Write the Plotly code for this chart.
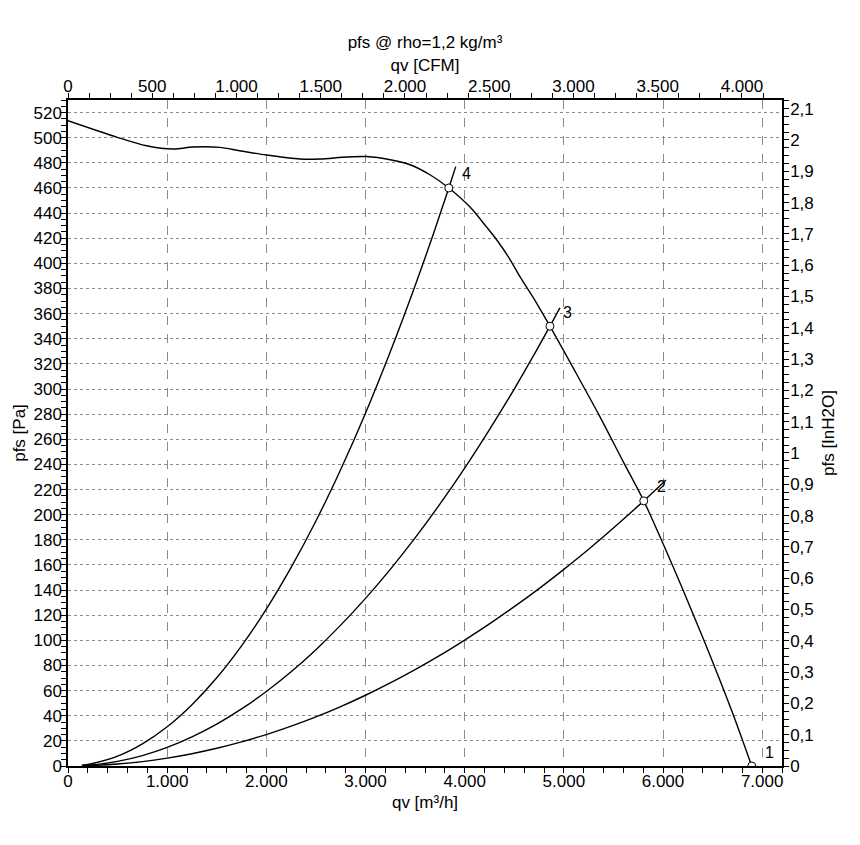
import plotly.graph_objects as go

# Fan curve pfs [Pa] vs qv [m3/h]
fan_qv = [0, 490, 793, 1060, 1260, 1530, 1730, 2000, 2340, 2540, 2810, 3010, 3250, 3450, 3650,
          3840, 4052, 4220, 4330, 4450, 4556, 4725, 4860, 5100, 5350, 5600, 5806, 6000, 6200,
          6400, 6573, 6700, 6895]
fan_p = [513.5, 500.5, 493.6, 491, 492.6, 492.3, 489.6, 486.2, 483, 483, 484.6, 485, 482.5, 478.5, 470.5,
         460, 445, 429, 418, 404, 389.6, 368.4, 350, 316, 280, 242, 211, 177, 140.4,
         102.4, 68.5, 42.5, 0]

# System curves
sys4_qv = [140, 250, 500, 750, 1000, 1250, 1500, 1750, 2000, 2250, 2500, 2750, 3000, 3250,
           3500, 3700, 3840, 3910]
sys4_p = [0.6, 2.0, 7.8, 17.6, 31.2, 48.8, 70.2, 95.6, 124.8, 158, 195, 236, 280.8, 329.6,
          382.2, 427, 460, 477]
sys3_qv = [140, 250, 500, 750, 1000, 1250, 1500, 1750, 2000, 2250, 2500, 2750, 3000, 3250,
           3500, 3750, 4000, 4250, 4500, 4700, 4860, 4960]
sys3_p = [0.3, 0.9, 3.7, 8.3, 14.8, 23.2, 33.3, 45.4, 59.3, 75, 92.6, 112.1, 133.4, 156.5,
          181.5, 208.4, 237.1, 267.7, 300, 327.4, 350, 364.6]
sys2_qv = [140, 250, 500, 750, 1000, 1250, 1500, 1750, 2000, 2250, 2500, 2750, 3000, 3250,
           3500, 3750, 4000, 4250, 4500, 4750, 5000, 5250, 5500, 5806, 6030]
sys2_p = [0.1, 0.4, 1.6, 3.5, 6.3, 9.8, 14.1, 19.2, 25, 31.7, 39.1, 47.3, 56.3, 66.1,
          76.7, 88, 100.2, 113.1, 126.8, 141.2, 156.5, 172.5, 189.4, 211, 227.6]

# Operating points
op_labels = ["1", "2", "3", "4"]
op_qv = [6895, 5806, 4860, 3840]
op_p = [0, 211, 350, 460]

title_text = "pfs @ rho=1,2 kg/m³"
x_title = "qv [m³/h]"
x2_title = "qv [CFM]"
y_title = "pfs [Pa]"
y2_title = "pfs [InH2O]"

QV_MAX = 7200
P_MAX = 530
CFM_PER_M3H = 1 / 1.69901
INH2O_PER_PA = 1 / 249.089

FONT = "Liberation Sans, Arial, sans-serif"
GRID = "#8a8a8a"

fig = go.Figure()
line = dict(color="black", width=1.4)
for qx, py, sm in [(sys4_qv, sys4_p, 1), (sys3_qv, sys3_p, 1), (sys2_qv, sys2_p, 1), (fan_qv, fan_p, 0.8)]:
    fig.add_trace(go.Scatter(x=qx, y=py, mode="lines", line=dict(line, shape="spline", smoothing=sm),
                             showlegend=False, hoverinfo="skip"))

fig.add_trace(go.Scatter(x=op_qv, y=op_p, mode="markers",
                         marker=dict(symbol="circle", size=8, color="white",
                                     line=dict(color="black", width=1)),
                         showlegend=False, cliponaxis=True))

# dummy trace for secondary axes
fig.add_trace(go.Scatter(x=[], y=[], xaxis="x2", yaxis="y2", showlegend=False))

for lab, qx, py in zip(op_labels, op_qv, op_p):
    fig.add_annotation(x=qx, y=py, text=lab, showarrow=False, xshift=18, yshift=14,
                       font=dict(size=16, color="black", family=FONT))

tickfont = dict(size=17, color="black", family=FONT)
axline = dict(showline=True, linecolor="black", linewidth=1.5, ticks="outside",
              ticklen=5, tickcolor="black", tickwidth=1, zeroline=False, tickfont=tickfont,
              automargin=False)

# page body has an 8px default margin -> compensate in figure margins
fig.update_layout(
    width=860, height=845,
    margin=dict(l=60, r=86, t=92, b=87),
    paper_bgcolor="white", plot_bgcolor="white",
    separators=",.",
    font=dict(family=FONT, color="black", size=17),
    title=dict(text=title_text, x=0.5, xref="paper", xanchor="center",
               y=1 - 34 / 845, yref="container", yanchor="middle",
               font=dict(size=17, color="black", family=FONT)),
    xaxis=dict(range=[0, QV_MAX], tick0=0, dtick=1000, tickformat=",", showgrid=True,
               gridcolor=GRID, griddash="dash", gridwidth=1, ticklabelstandoff=-6,
               minor=dict(dtick=200, ticks="outside", ticklen=5, tickcolor="black", showgrid=False),
               title=dict(text=x_title, standoff=6, font=tickfont), **axline),
    xaxis2=dict(range=[0, QV_MAX * CFM_PER_M3H], overlaying="x", side="top", tick0=0, dtick=500,
                tickformat=",", showgrid=False, ticklabelstandoff=-6,
                minor=dict(dtick=125, ticks="outside", ticklen=5, tickcolor="black", showgrid=False),
                title=dict(text=x2_title, standoff=2, font=tickfont), **axline),
    yaxis=dict(range=[0, P_MAX], tick0=0, dtick=20, showgrid=True, gridcolor=GRID,
               griddash="dot", gridwidth=1, ticklabelstandoff=-4,
               minor=dict(dtick=5, ticks="outside", ticklen=5, tickcolor="black", showgrid=False),
               title=dict(text=y_title, standoff=4, font=tickfont), **axline),
    yaxis2=dict(range=[0, P_MAX * INH2O_PER_PA], overlaying="y", side="right", tick0=0, dtick=0.1,
                showgrid=False, ticklabelstandoff=-2,
                minor=dict(dtick=0.025, ticks="outside", ticklen=5, tickcolor="black", showgrid=False),
                title=dict(text=y2_title, standoff=9, font=tickfont), **axline),
)

fig.write_html("out.html")
